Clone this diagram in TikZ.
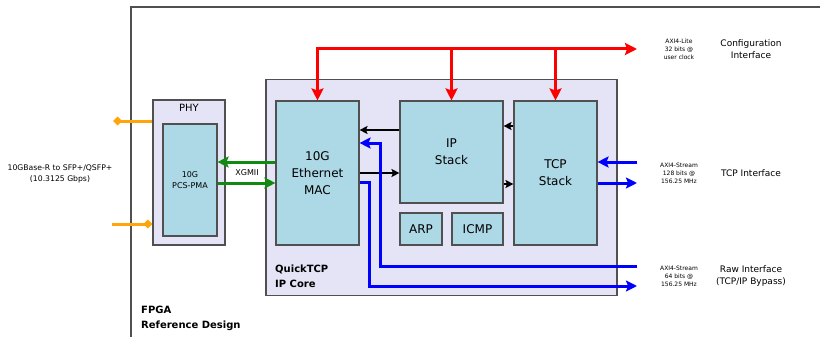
\documentclass[tikz,border=0pt]{standalone}
\usepackage{fontspec}
\setmainfont{DejaVu Sans}
\usetikzlibrary{arrows.meta}
\definecolor{corefill}{HTML}{E4E4F6}
\definecolor{blockfill}{HTML}{ADD8E6}
\definecolor{edgegray}{HTML}{505050}
\definecolor{busgreen}{HTML}{108A10}
\definecolor{busorange}{HTML}{FFA50A}
\tikzset{
  outerbox/.style={draw=edgegray,fill=corefill,line width=1.1pt,inner sep=0pt},
  blockbox/.style={draw=edgegray,fill=blockfill,line width=1.1pt,inner sep=0pt,
    align=center,font=\fontsize{12}{17}\selectfont},
  redbus/.style={draw=red,line width=3pt,line join=miter},
  bluebus/.style={draw=blue,line width=3pt,line join=miter,-{Stealth[length=11pt,width=11pt,inset=2pt]}},
  greenbus/.style={draw=busgreen,line width=3pt,-{Stealth[length=11pt,width=11pt,inset=2pt]}},
  orangebus/.style={draw=busorange,line width=3pt},
  ctlarrow/.style={draw=black,line width=1.4pt,-{Stealth[length=8pt,width=8pt,inset=1.5pt]}},
  axilabel/.style={align=center,inner sep=0pt,font=\fontsize{6}{8}\selectfont},
  iflabel/.style={align=center,inner sep=0pt,font=\fontsize{9}{12.5}\selectfont},
  boldlabel/.style={align=left,inner sep=0pt,anchor=west,font=\bfseries\fontsize{10}{15}\selectfont}
}
\begin{document}
\begin{tikzpicture}[x=1pt,y=-1pt]
\useasboundingbox (0,0) rectangle (820,337);
%% FPGA frame
\draw[edgegray,line width=1.3pt] (131,337) -- (131,7) -- (820,7);
\node[boldlabel] (fpga) at (141,318) {FPGA\\Reference Design};
%% PHY
\node[outerbox,minimum width=72pt,minimum height=145pt] (phy) at (189,172.5) {};
\node[inner sep=0pt,font=\fontsize{10}{12}\selectfont] (phytitle) at (189,108) {PHY};
\node[blockbox,minimum width=54pt,minimum height=112pt,font=\fontsize{8}{11}\selectfont] (pcs) at (190,180) {10G\\PCS-PMA};
\node[inner sep=0pt,align=center,font=\fontsize{7.7}{11}\selectfont] (sfp) at (60,173.5) {10GBase-R to SFP+/QSFP+\\(10.3125 Gbps)};
%% QuickTCP core
\node[outerbox,minimum width=351pt,minimum height=216pt] (core) at (441.5,187.5) {};
\node[boldlabel] (coretitle) at (275,276) {QuickTCP\\IP Core};
\node[blockbox,minimum width=83pt,minimum height=144pt] (mac) at (317.5,173) {10G\\Ethernet\\MAC};
\node[blockbox,minimum width=103pt,minimum height=102pt] (ip) at (451.5,152) {IP\\Stack};
\node[blockbox,minimum width=83pt,minimum height=144pt] (tcp) at (555.5,173) {TCP\\Stack};
\node[blockbox,minimum width=42pt,minimum height=32pt] (arp) at (421,229) {ARP};
\node[blockbox,minimum width=51pt,minimum height=32pt] (icmp) at (477.5,229) {ICMP};
%% configuration bus
\coordinate (cfgend) at (637,49);
\draw[redbus,{Stealth[length=12pt,width=12pt,inset=2pt]}-{Stealth[length=12pt,width=12pt,inset=2pt]}]
  (mac.north) -- (mac.north |- cfgend) -- (cfgend);
\draw[redbus,-{Stealth[length=12pt,width=12pt,inset=2pt]}] (ip.north |- cfgend) -- (ip.north);
\draw[redbus,-{Stealth[length=12pt,width=12pt,inset=2pt]}] (tcp.north |- cfgend) -- (tcp.north);
%% internal data paths
\draw[ctlarrow] (ip.west |- 0,130) -- (mac.east |- 0,130);
\draw[ctlarrow] (mac.east |- 0,173) -- (ip.west |- 0,173);
\draw[ctlarrow] (tcp.west |- 0,126) -- (ip.east |- 0,126);
\draw[ctlarrow] (ip.east |- 0,184) -- (tcp.west |- 0,184);
%% XGMII
\draw[greenbus] (mac.west |- 0,162) -- (pcs.east |- 0,162);
\draw[greenbus] (pcs.east |- 0,183) -- (mac.west |- 0,183);
\node[inner sep=0pt,font=\fontsize{8}{10}\selectfont] (xgmii) at (247,173) {XGMII};
%% serial lines
\coordinate (sfptx) at (113,121);
\coordinate (sfprx) at (112,224);
\draw[orangebus,{Diamond[length=9pt,width=9pt]}-] (sfptx) -- (phy.west |- sfptx);
\draw[orangebus,-{Diamond[length=9pt,width=9pt]}] (sfprx) -- (phy.west |- sfprx);
%% TCP interface
\coordinate (tcpin) at (637,162);
\coordinate (tcpout) at (637,183);
\draw[bluebus] (tcpin) -- (tcp.east |- tcpin);
\draw[bluebus] (tcp.east |- tcpout) -- (tcpout);
%% raw interface
\coordinate (rawin) at (637,266);
\coordinate (rawout) at (637,286);
\draw[bluebus] (rawin) -- (380,266) -- (380,143) -- (mac.east |- 0,143);
\draw[bluebus] (mac.east |- 0,182) -- (369,182) -- (369,286) -- (rawout);
%% interface labels
\node[axilabel] (cfgaxi) at (679,49) {AXI4-Lite\\32 bits @\\user clock};
\node[iflabel] (cfgif) at (751,49) {Configuration\\Interface};
\node[axilabel] (tcpaxi) at (679,173) {AXI4-Stream\\128 bits @\\156.25 MHz};
\node[iflabel] (tcpif) at (751,173) {TCP Interface};
\node[axilabel] (rawaxi) at (679,276) {AXI4-Stream\\64 bits @\\156.25 MHz};
\node[iflabel] (rawif) at (751,276) {Raw Interface\\(TCP/IP Bypass)};
\end{tikzpicture}
\end{document}
